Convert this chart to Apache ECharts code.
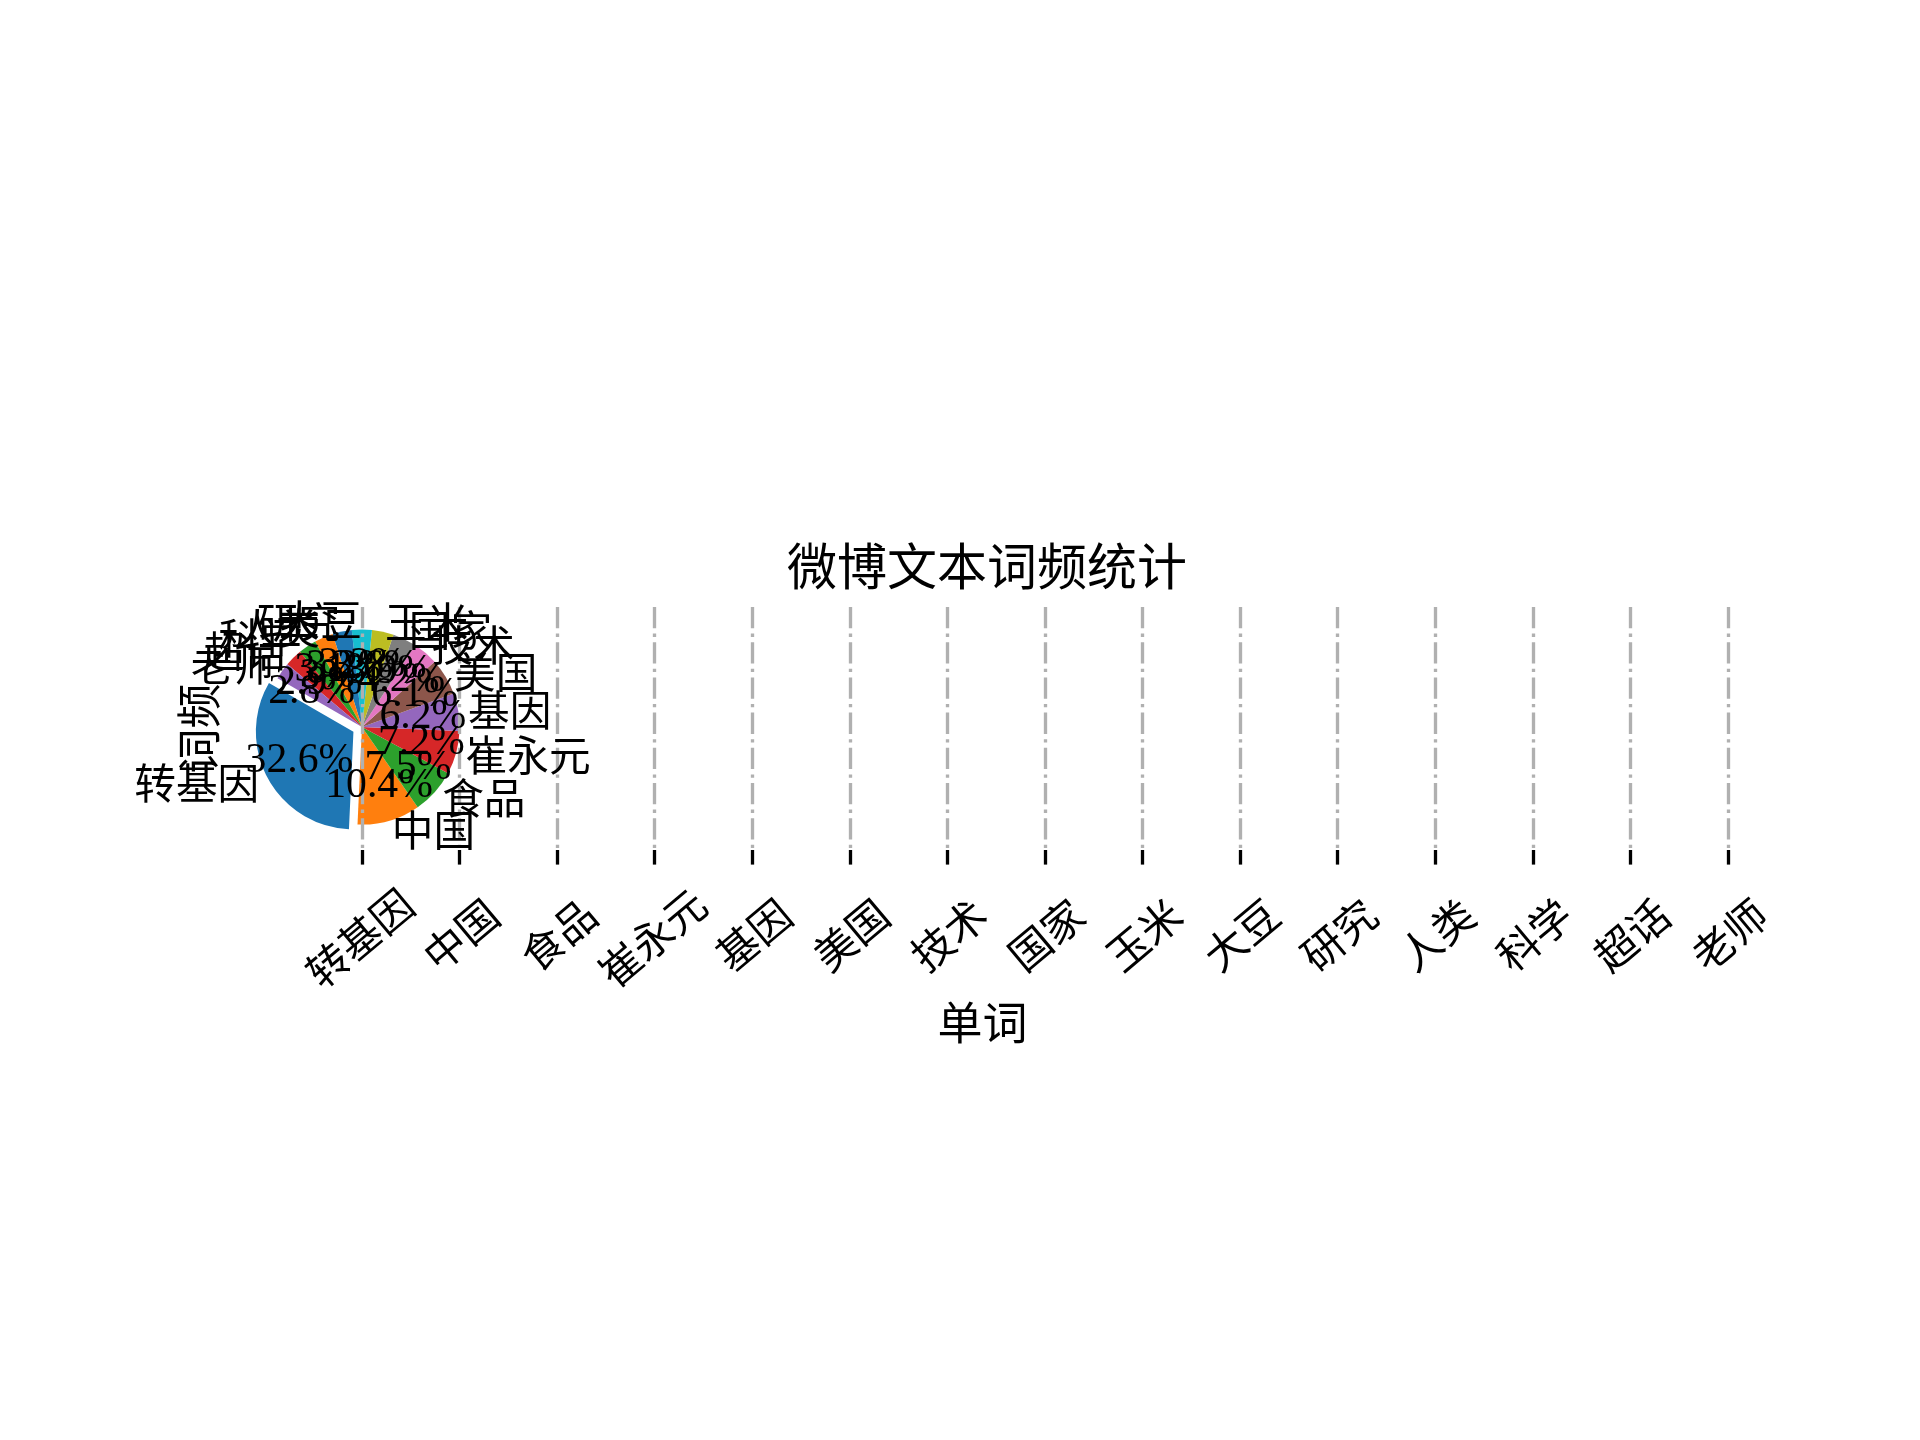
<!DOCTYPE html>
<html>
<head>
<meta charset="utf-8">
<script src="https://cdn.jsdelivr.net/npm/echarts@6/dist/echarts.min.js"></script>
<style>
html,body{margin:0;padding:0;background:#fff;}
#chart{width:1920px;height:1440px;}
</style>
</head>
<body>
<div id="chart"></div>
<script>
// ---- data ----
const categories = ['转基因','中国','食品','崔永元','基因','美国','技术','国家','玉米','大豆','研究','人类','科学','超话','老师'];
const freqPercent = [32.6,10.4,7.5,7.2,6.2,6.1,4.2,3.9,3.6,3.3,3.2,3.1,3.0,2.9,2.8];
const explodedWord = '转基因';
const titleText = '微博文本词频统计';
const xAxisName = '单词';
const yAxisName = '词频';

// ---- style ----
const palette = ['#1f77b4','#ff7f0e','#2ca02c','#d62728','#9467bd','#8c564b','#e377c2','#7f7f7f','#bcbd22','#17becf'];
const CJK = '"Noto Sans CJK SC", sans-serif';
const tickFs = 41.7;
const rot = 40;
const refLen = 3;

// padding that emulates matplotlib's centred, top-anchored rotated tick labels
function labelPadding(n) {
  const s = Math.sin(rot * Math.PI / 180), c = Math.cos(rot * Math.PI / 180);
  const dy = (n - refLen) * tickFs * s / 2;
  const dx = -(4 + 5 * (refLen - n));
  const a = -dy * s + dx * c, b = dy * c + dx * s;
  const pad = [0, 0, 0, 0];
  if (a > 0) pad[3] = 2 * a; else pad[1] = -2 * a;
  if (b > 0) pad[0] = 2 * b; else pad[2] = -2 * b;
  return pad;
}

const chart = echarts.init(document.getElementById('chart'), null, {renderer: 'canvas'});

const baseOption = {
  backgroundColor: '#ffffff',
  animation: false,
  title: {
    text: titleText,
    left: 982, top: 536, textAlign: 'center',
    textStyle: {fontFamily: CJK, fontSize: 50, fontWeight: 'normal', color: '#000'}
  },
  grid: {left: 362, right: 192, top: 607, bottom: 590, containLabel: false},
  xAxis: {
    type: 'category',
    boundaryGap: false,
    z: 2,
    data: categories.map(w => ({value: w, textStyle: {
      align: 'center', verticalAlign: 'middle', padding: labelPadding(w.length),
      fontFamily: CJK, fontSize: tickFs, color: '#000'
    }})),
    name: xAxisName,
    nameLocation: 'middle',
    nameGap: 150,
    nameMoveOverlap: false,
    nameTextStyle: {fontFamily: CJK, fontSize: 45, color: '#000', padding: [0, 125, 0, 0]},
    axisLine: {show: false, onZero: false},
    axisTick: {show: true, interval: 0, length: 14.6, inside: false, lineStyle: {color: '#000', width: 3.3}},
    axisLabel: {
      interval: 0, rotate: rot, align: 'center', verticalAlign: 'middle', margin: 86,
      hideOverlap: false,
      fontFamily: CJK, fontSize: tickFs, color: '#000'
    },
    splitLine: {show: true, interval: 0, lineStyle: {color: '#b0b0b0', width: 3.33, type: [21.3, 5.3, 3.3, 5.3]}}
  },
  yAxis: {
    type: 'value', min: -1.26, max: 1.23,
    name: yAxisName, nameLocation: 'middle', nameGap: 141, nameRotate: 90,
    nameMoveOverlap: false,
    nameTextStyle: {fontFamily: CJK, fontSize: 45, color: '#000'},
    axisLine: {show: false, onZero: false}, axisTick: {show: false}, axisLabel: {show: false}, splitLine: {show: false}
  },
  series: []
};
chart.setOption(baseOption);

// pie placed at category 0 / value 0, radius = one category unit
const p0 = chart.convertToPixel({gridIndex: 0}, [categories[0], 0]);
const p1 = chart.convertToPixel({gridIndex: 0}, [categories[1], 0]);
const R = Math.abs(p1[0] - p0[0]);
const center = [p0[0], p0[1]];
const offset = 0.1 * R;

function pieData(transparent) {
  return categories.map((w, i) => ({
    name: w,
    value: freqPercent[i],
    selected: w === explodedWord,
    itemStyle: transparent ? {color: 'rgba(0,0,0,0)'} : {color: palette[i % palette.length]}
  }));
}
const common = {
  type: 'pie',
  center: center,
  startAngle: 150,
  clockwise: false,
  selectedMode: 'single',
  selectedOffset: offset,
  avoidLabelOverlap: false,
  silent: true,
  emphasis: {disabled: true, scale: false},
  select: {itemStyle: {borderWidth: 0}},
  itemStyle: {borderWidth: 0},
  percentPrecision: 1,
  minShowLabelAngle: 0,
  labelLayout: {hideOverlap: false, moveOverlap: null},
  labelLine: {show: false}
};

chart.setOption({
  series: [
    Object.assign({}, common, {
      name: 'wedges', z: 1, radius: R,
      data: pieData(false),
      label: {show: false}
    }),
    Object.assign({}, common, {
      name: 'pct', z: 3, radius: 1.2 * R,
      data: pieData(true),
      label: {show: true, position: 'inside', formatter: '{d}%', fontFamily: '"Liberation Serif", serif',
        fontSize: 41.7, color: '#000', rotate: 0}
    }),
    Object.assign({}, common, {
      name: 'names', z: 3, radius: R,
      data: pieData(true),
      label: {show: true, position: 'outside', formatter: '{b}', fontFamily: CJK,
        fontSize: 41.7, color: '#000', distanceToLabelLine: 0, alignTo: 'none', edgeDistance: 0},
      labelLine: {show: false, length: 0.1 * R, length2: 0}
    })
  ]
});
</script>
</body>
</html>
